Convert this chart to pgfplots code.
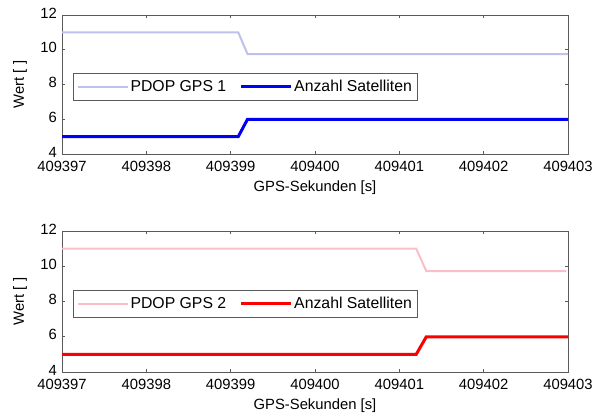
\documentclass[border=0pt]{standalone}
\usepackage{fontspec}
\setmainfont{Liberation Sans}
\usepackage{pgfplots}
\pgfplotsset{compat=1.18}
\definecolor{pdopone}{RGB}{192,192,238}
\definecolor{satone}{RGB}{0,0,245}
\definecolor{pdoptwo}{RGB}{250,190,200}
\definecolor{sattwo}{RGB}{250,0,0}
\definecolor{axgray}{RGB}{90,90,90}
\newcommand{\myfont}{\fontsize{14.8}{17}\selectfont}
\newcommand{\legfont}{\fontsize{15.8}{18}\selectfont}
\begin{document}
\begin{tikzpicture}
\useasboundingbox (0,0) rectangle (601pt,418pt);
\pgfplotsset{
  myax/.style={
    anchor=south west,
    scale only axis,
    width=506pt,
    xmin=0, xmax=6, ymin=4, ymax=12,
    xtick={0,1,2,3,4,5,6},
    xticklabels={409397,409398,409399,409400,409401,409402,409403},
    ytick={4,6,8,10,12},
    tick align=inside,
    major tick length=3pt,
    axis line style={axgray, line width=0.8pt},
    every tick/.style={axgray, line width=0.6pt},
    tick label style={font=\myfont, black, inner sep=1pt},
    xticklabel style={yshift=-6pt},
    yticklabel style={yshift=2pt, xshift=-4pt},
    /pgf/number format/assume math mode=true,
    xlabel={GPS-Sekunden [s]},
    ylabel={Wert [ ]},
    every axis x label/.style={at={(axis description cs:0.5,0)}, anchor=center, yshift=-34pt, font=\myfont},
    every axis y label/.style={at={(axis description cs:-0.083,0.5)}, anchor=center, rotate=90, font=\myfont},
    legend columns=2,
    legend style={at={(0.022,0.583)}, anchor=north west, draw=axgray, line width=0.8pt, fill=white,
      font=\legfont, inner xsep=3pt, inner ysep=5pt,
      /tikz/every even column/.append style={column sep=11pt}},
    legend image code/.code={\draw[##1] (0pt,0pt) -- (50pt,0pt);},
    legend cell align=left,
  }
}
\begin{axis}[myax, at={(62pt,264pt)}, height=139pt]
\addplot[pdopone, line width=2pt] coordinates {(0,11) (2.09,11) (2.2,9.75) (6,9.75)};
\addlegendentry{PDOP GPS 1}
\addplot[satone, line width=3pt] coordinates {(0,5) (2.09,5) (2.2,6) (6,6)};
\addlegendentry{Anzahl Satelliten}
\end{axis}
\begin{axis}[myax, at={(62pt,46pt)}, height=141pt]
\addplot[pdoptwo, line width=2pt] coordinates {(0,11) (4.2,11) (4.32,9.72) (5.98,9.72)};
\addlegendentry{PDOP GPS 2}
\addplot[sattwo, line width=3pt] coordinates {(0,5) (4.2,5) (4.32,6) (6,6)};
\addlegendentry{Anzahl Satelliten}
\end{axis}
\end{tikzpicture}
\end{document}
